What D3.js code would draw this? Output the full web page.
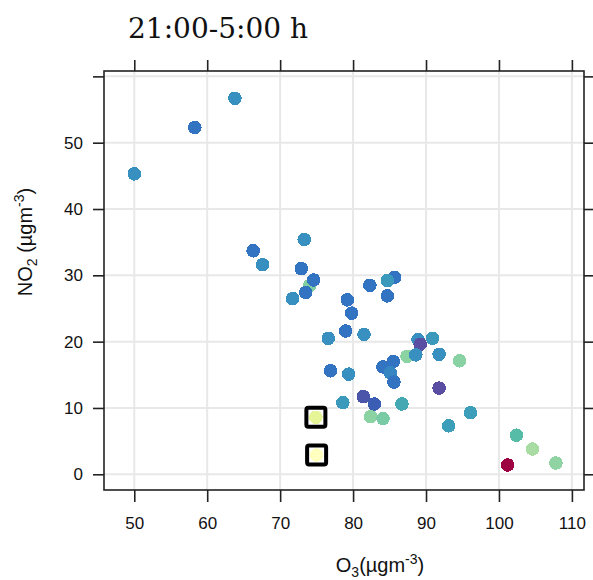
<!DOCTYPE html>
<html>
<head>
<meta charset="utf-8">
<script src="https://cdn.jsdelivr.net/npm/d3@7"></script>
<style>
  html, body { margin: 0; padding: 0; background: #fff; }
  svg { display: block; }
</style>
</head>
<body>
<svg id="chart" width="593" height="580"></svg>
<script>
// Night-time (21:00-5:00) O3 vs NO2 observations, coloured by level
const o3 = [
  74.0, 87.4, 94.6, 82.4, 84.1, 107.8, 104.6, 102.4,
  63.8, 58.3, 50.0, 73.3, 66.3, 67.6, 72.9, 74.6, 73.5, 71.7,
  82.3, 85.7, 84.7, 84.7, 79.2, 79.8, 79.0, 81.5, 76.6,
  76.9, 79.4, 84.1, 85.5, 85.1, 85.6,
  88.9, 90.9, 89.2, 88.6, 91.8, 91.8,
  82.9, 86.7, 96.1, 78.6, 81.4, 93.1, 101.2,
  74.9, 75.0
];
const no2 = [
  28.4, 17.8, 17.1, 8.7, 8.4, 1.7, 3.8, 5.9,
  56.7, 52.3, 45.3, 35.4, 33.7, 31.6, 31.0, 29.3, 27.4, 26.5,
  28.5, 29.7, 29.2, 26.9, 26.3, 24.3, 21.6, 21.1, 20.5,
  15.6, 15.1, 16.2, 17.0, 15.3, 13.9,
  20.3, 20.5, 19.6, 18.0, 18.1, 13.0,
  10.6, 10.6, 9.3, 10.8, 11.7, 7.3, 1.4,
  8.6, 2.9
];
const level = [
  4, 3.7, 3.8, 3.7, 4.2, 3.6, 3, 5,
  7, 8, 7, 7, 8, 7, 8, 8, 8, 7,
  8, 8, 6.5, 8, 8, 8, 8, 7, 7,
  8, 7, 8, 8, 7.3, 8,
  7, 6.5, 10, 7, 7, 10,
  9, 5.8, 6.3, 6.5, 9.5, 6.3, 0,
  2, 1
];
const marked = [
  false, false, false, false, false, false, false, false,
  false, false, false, false, false, false, false, false, false, false,
  false, false, false, false, false, false, false, false, false,
  false, false, false, false, false, false,
  false, false, false, false, false, false,
  false, false, false, false, false, false, false,
  true, true
];

const xTicks = [50, 60, 70, 80, 90, 100, 110];
const yTicks = [0, 10, 20, 30, 40, 50, 60];
const yTickLabels = ["0", "10", "20", "30", "40", "50", ""];

const levelStops = [0, 1, 2, 3, 4, 5, 6, 7, 8, 9, 10];
const levelColors = ["#9e0142", "#ffffbf", "#e6f598", "#a9dca2", "#80cfa3", "#56bca8",
                     "#3fa4b6", "#3790c0", "#3273c2", "#3c5db4", "#5a4ea2"];

const title = "21:00-5:00 h";

const svg = d3.select("#chart");
const L = 104, R = 584, T = 71, B = 490;

const x = d3.scaleLinear().domain([45.85, 111.66]).range([L, R]);
const y = d3.scaleLinear().domain([-2.37, 60.81]).range([B, T]);
const color = d3.scaleLinear().domain(levelStops).range(levelColors).interpolate(d3.interpolateRgb);

// grid
const grid = svg.append("g").attr("stroke", "#e8e8e8").attr("stroke-width", 2);
grid.selectAll("line.v").data(xTicks).join("line")
  .attr("x1", d => x(d)).attr("x2", d => x(d)).attr("y1", T).attr("y2", B);
grid.selectAll("line.h").data(yTicks).join("line")
  .attr("y1", d => y(d)).attr("y2", d => y(d)).attr("x1", L).attr("x2", R);

// points
const pts = d3.range(o3.length).map(i => ({x: o3[i], y: no2[i], l: level[i], m: marked[i]}));
svg.append("g").selectAll("circle").data(pts).join("circle")
  .attr("cx", d => x(d.x)).attr("cy", d => y(d.y)).attr("r", 6.8)
  .attr("fill", d => color(d.l))
  .attr("shape-rendering", "crispEdges");

// highlight boxes
svg.append("g").selectAll("rect").data(pts.filter(d => d.m)).join("rect")
  .attr("x", d => x(d.x) - 9.5).attr("y", d => y(d.y) - 9.5)
  .attr("width", 19).attr("height", 19).attr("rx", 2)
  .attr("fill", "none").attr("stroke", "#000").attr("stroke-width", 4);

// axes on all four sides, labels only bottom/left
const tickFont = "Liberation Sans, Arial, sans-serif";
const axB = d3.axisBottom(x).tickValues(xTicks).tickSize(12).tickSizeOuter(0).tickPadding(15);
const axT = d3.axisTop(x).tickValues(xTicks).tickSize(11).tickSizeOuter(0).tickFormat("");
const axL = d3.axisLeft(y).tickValues(yTicks).tickSize(11).tickSizeOuter(0).tickPadding(10)
  .tickFormat((d, i) => yTickLabels[i]);
const axR = d3.axisRight(y).tickValues(yTicks).tickSize(11).tickSizeOuter(0).tickFormat("");

function styleAxis(g) {
  g.select(".domain").remove();
  g.selectAll(".tick line").attr("stroke", "#222").attr("stroke-width", 1.6);
  g.selectAll(".tick text").attr("fill", "#111").style("font-family", tickFont).style("font-size", "17px");
}
svg.append("g").attr("transform", `translate(0,${B})`).call(axB).call(styleAxis);
svg.append("g").attr("transform", `translate(0,${T})`).call(axT).call(styleAxis);
svg.append("g").attr("transform", `translate(${L},0)`).call(axL).call(styleAxis);
svg.append("g").attr("transform", `translate(${R},0)`).call(axR).call(styleAxis);

// frame
svg.append("rect").attr("x", L).attr("y", T).attr("width", R - L).attr("height", B - T)
  .attr("fill", "none").attr("stroke", "#222").attr("stroke-width", 1.6);

// title
svg.append("text").attr("x", 128).attr("y", 38)
  .style("font-family", "DejaVu Serif, serif").style("font-size", "28px").attr("fill", "#111")
  .text(title);

// x axis title
const xt = svg.append("text").attr("x", 380).attr("y", 572).attr("text-anchor", "middle")
  .style("font-family", tickFont).style("font-size", "20px").attr("fill", "#111");
xt.append("tspan").text("O");
xt.append("tspan").attr("dy", 5).style("font-size", "14px").text("3");
xt.append("tspan").attr("dy", -5).text("(µgm");
xt.append("tspan").attr("dy", -8).style("font-size", "14px").text("-3");
xt.append("tspan").attr("dy", 8).text(")");

// y axis title
const yt = svg.append("text").attr("transform", "translate(32,242) rotate(-90)").attr("text-anchor", "middle")
  .style("font-family", tickFont).style("font-size", "20px").attr("fill", "#111");
yt.append("tspan").text("NO");
yt.append("tspan").attr("dy", 5).style("font-size", "14px").text("2");
yt.append("tspan").attr("dy", -5).text(" (µgm");
yt.append("tspan").attr("dy", -8).style("font-size", "14px").text("-3");
yt.append("tspan").attr("dy", 8).text(")");
</script>
</body>
</html>
